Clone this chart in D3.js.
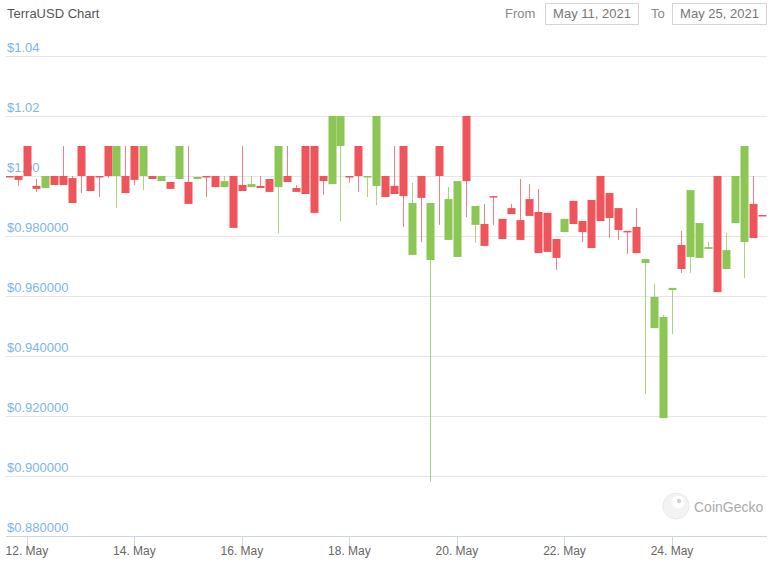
<!DOCTYPE html>
<html>
<head>
<meta charset="utf-8">
<script src="https://cdn.jsdelivr.net/npm/d3@7"></script>
<style>
  body { margin: 0; background: #fff; font-family: "Liberation Sans", Arial, sans-serif; }
  svg text { font-family: "Liberation Sans", Arial, sans-serif; }
</style>
</head>
<body>
<div id="chart"></div>
<script>
// 4-hour candles, first one at May 11 16:00 (UTC)
const firstCandle = Date.UTC(2021, 4, 11, 16);
const candleHours = 4;

const opens = [
  1.0000, 1.0000, 1.0100, 0.9967, 0.9960, 1.0000, 1.0000, 0.9993, 1.0100, 1.0000,
  1.0000, 1.0100, 1.0000, 1.0000, 1.0100, 1.0000, 1.0000, 0.9983, 0.9980, 0.9990,
  0.9980, 0.9990, 1.0000, 1.0000, 0.9963, 1.0000, 0.9970, 0.9963, 0.9967, 0.9990,
  0.9963, 1.0000, 0.9960, 1.0100, 1.0100, 1.0000, 0.9973, 1.0100, 1.0000, 1.0100,
  0.9997, 0.9967, 1.0000, 0.9967, 1.0100, 0.9737, 1.0000, 0.9720, 1.0100, 0.9787,
  0.9730, 1.0200, 0.9837, 0.9840, 0.9933, 0.9857, 0.9893, 0.9853, 0.9923, 0.9880,
  0.9877, 0.9790, 0.9813, 0.9917, 0.9850, 0.9920, 1.0000, 0.9943, 0.9893, 0.9817,
  0.9830, 0.9710, 0.9493, 0.9193, 0.9620, 0.9770, 0.9730, 0.9727, 0.9757, 1.0000,
  0.9690, 0.9843, 0.9780, 0.9907, 0.9870
];
const highs = [
  1.0000, 1.0000, 1.0100, 0.9990, 1.0000, 1.0000, 1.0100, 1.0000, 1.0100, 1.0000,
  1.0000, 1.0100, 1.0100, 1.0100, 1.0100, 1.0100, 1.0000, 1.0000, 0.9980, 1.0100,
  1.0100, 0.9997, 1.0000, 1.0000, 1.0000, 1.0000, 1.0100, 1.0000, 1.0000, 0.9990,
  1.0100, 1.0100, 0.9970, 1.0100, 1.0100, 1.0000, 1.0200, 1.0200, 1.0000, 1.0100,
  1.0000, 1.0200, 1.0000, 1.0100, 1.0100, 0.9977, 1.0000, 0.9910, 1.0100, 0.9963,
  0.9983, 1.0200, 0.9900, 0.9907, 0.9933, 0.9857, 0.9907, 0.9990, 0.9973, 0.9957,
  0.9877, 0.9790, 0.9857, 0.9917, 0.9850, 0.9920, 1.0000, 0.9943, 0.9893, 0.9817,
  0.9893, 0.9723, 0.9640, 0.9537, 0.9627, 0.9817, 0.9953, 0.9843, 0.9780, 1.0000,
  0.9810, 1.0000, 1.0100, 1.0000, 0.9870
];
const lows = [
  0.9997, 0.9967, 1.0000, 0.9947, 0.9960, 0.9970, 0.9970, 0.9910, 0.9943, 0.9950,
  0.9930, 0.9993, 0.9893, 0.9943, 0.9970, 0.9953, 0.9990, 0.9983, 0.9957, 0.9990,
  0.9907, 0.9990, 0.9930, 0.9963, 0.9963, 0.9827, 0.9950, 0.9963, 0.9960, 0.9947,
  0.9810, 0.9980, 0.9947, 0.9940, 0.9877, 0.9937, 0.9973, 0.9850, 0.9977, 0.9947,
  0.9930, 0.9903, 0.9930, 0.9940, 0.9830, 0.9737, 0.9780, 0.8980, 0.9837, 0.9787,
  0.9730, 0.9863, 0.9777, 0.9767, 0.9837, 0.9790, 0.9873, 0.9787, 0.9867, 0.9743,
  0.9747, 0.9687, 0.9813, 0.9840, 0.9780, 0.9760, 0.9850, 0.9793, 0.9787, 0.9740,
  0.9743, 0.9273, 0.9493, 0.9193, 0.9473, 0.9677, 0.9677, 0.9727, 0.9757, 0.9613,
  0.9690, 0.9843, 0.9660, 0.9793, 0.9867
];
const closes = [
  0.9997, 0.9987, 1.0000, 0.9957, 1.0000, 0.9970, 0.9970, 0.9910, 1.0000, 0.9950,
  0.9997, 1.0000, 1.0100, 0.9943, 0.9987, 1.0100, 0.9990, 1.0000, 0.9957, 1.0100,
  0.9907, 0.9997, 0.9997, 0.9963, 0.9983, 0.9827, 0.9950, 0.9973, 0.9960, 0.9947,
  1.0100, 0.9980, 0.9947, 0.9940, 0.9877, 0.9983, 1.0200, 1.0200, 0.9997, 1.0000,
  1.0000, 1.0200, 0.9930, 0.9940, 0.9933, 0.9910, 0.9927, 0.9910, 1.0000, 0.9923,
  0.9983, 0.9983, 0.9900, 0.9767, 0.9930, 0.9790, 0.9873, 0.9787, 0.9867, 0.9743,
  0.9747, 0.9727, 0.9857, 0.9840, 0.9813, 0.9760, 0.9850, 0.9860, 0.9820, 0.9813,
  0.9743, 0.9723, 0.9597, 0.9530, 0.9627, 0.9690, 0.9953, 0.9843, 0.9763, 0.9613,
  0.9753, 1.0000, 1.0100, 0.9793, 0.9867
];

const yTickValues = [0.88, 0.90, 0.92, 0.94, 0.96, 0.98, 1.00, 1.02, 1.04];
const yTickLabels = ["$0.880000", "$0.900000", "$0.920000", "$0.940000", "$0.960000",
  "$0.980000", "$1.00", "$1.02", "$1.04"];
const xTickDates = ["2021-05-12", "2021-05-14", "2021-05-16", "2021-05-18",
  "2021-05-20", "2021-05-22", "2021-05-24"];
const xTickLabels = ["12. May", "14. May", "16. May", "18. May", "20. May", "22. May", "24. May"];

const width = 784, height = 574;
const plotLeft = 6, plotRight = 767;

const upColor = '#8cc655';
const downColor = '#f0545b';

const candles = opens.map((o, i) => ({
  t: new Date(firstCandle + i * candleHours * 3600 * 1000),
  open: o, high: highs[i], low: lows[i], close: closes[i]
}));

const xScale = d3.scaleUtc()
  .domain([new Date(Date.UTC(2021, 4, 11, 12)), new Date(Date.UTC(2021, 4, 25, 18, 25))])
  .range([0, plotRight]);

const yScale = d3.scaleLinear()
  .domain([0.88, 1.04])
  .range([536, 56]);

const svg = d3.select('#chart').append('svg')
  .attr('width', width)
  .attr('height', height);

// header
svg.append('text')
  .attr('x', 7).attr('y', 18)
  .attr('font-size', 13).attr('fill', '#555')
  .text('TerraUSD Chart');

const header = [
  { label: 'From', lx: 505, bx: 545, bw: 93, value: 'May 11, 2021' },
  { label: 'To', lx: 651, bx: 672, bw: 94, value: 'May 25, 2021' }
];
header.forEach(h => {
  svg.append('text')
    .attr('x', h.lx).attr('y', 18)
    .attr('font-size', 13).attr('fill', '#888')
    .text(h.label);
  svg.append('rect')
    .attr('x', h.bx + 0.5).attr('y', 3.5)
    .attr('width', h.bw).attr('height', 21)
    .attr('fill', '#fff').attr('stroke', '#d4d4d4');
  svg.append('text')
    .attr('x', h.bx + h.bw / 2 + 0.5).attr('y', 18)
    .attr('text-anchor', 'middle')
    .attr('font-size', 13).attr('fill', '#777')
    .text(h.value);
});

// grid + y labels
const yAxisG = svg.append('g');
yAxisG.selectAll('line')
  .data(yTickValues.slice(1))
  .enter().append('line')
  .attr('x1', plotLeft).attr('x2', plotRight)
  .attr('y1', d => Math.round(yScale(d)) + 0.5)
  .attr('y2', d => Math.round(yScale(d)) + 0.5)
  .attr('stroke', '#e6e6e6');

yAxisG.selectAll('text')
  .data(yTickValues)
  .enter().append('text')
  .attr('x', 7)
  .attr('y', d => yScale(d) - 4)
  .attr('font-size', 13)
  .attr('fill', '#7cb5ec')
  .text((d, i) => yTickLabels[i]);

// x axis
const xAxisG = svg.append('g');
xAxisG.append('line')
  .attr('x1', plotLeft).attr('x2', plotRight)
  .attr('y1', 536.5).attr('y2', 536.5)
  .attr('stroke', '#ccd6eb');

const xTicks = xTickDates.map((d, i) => ({ t: new Date(d + 'T00:00:00Z'), label: xTickLabels[i] }));
xAxisG.selectAll('.tick')
  .data(xTicks)
  .enter().append('line')
  .attr('class', 'tick')
  .attr('x1', d => Math.round(xScale(d.t)) + 0.5)
  .attr('x2', d => Math.round(xScale(d.t)) + 0.5)
  .attr('y1', 537).attr('y2', 547)
  .attr('stroke', '#ccd6eb');
xAxisG.selectAll('.tlabel')
  .data(xTicks)
  .enter().append('text')
  .attr('class', 'tlabel')
  .attr('x', d => xScale(d.t))
  .attr('y', 555)
  .attr('text-anchor', 'middle')
  .attr('font-size', 12)
  .attr('fill', '#666')
  .text(d => d.label);

// watermark
const wm = svg.append('g').attr('opacity', 0.45);
wm.append('circle').attr('cx', 676).attr('cy', 506).attr('r', 13)
  .attr('fill', '#e6e6e6').attr('stroke', '#cfcfcf');
wm.append('circle').attr('cx', 678).attr('cy', 502).attr('r', 6.5).attr('fill', '#fff');
wm.append('circle').attr('cx', 679).attr('cy', 501).attr('r', 2.2).attr('fill', '#999');
svg.append('text')
  .attr('x', 694).attr('y', 512)
  .attr('font-size', 14).attr('fill', '#ababab')
  .text('CoinGecko');

// candles
svg.append('clipPath').attr('id', 'plot-clip')
  .append('rect')
  .attr('x', plotLeft).attr('y', 0)
  .attr('width', plotRight - plotLeft).attr('height', 540);

const candleW = 8;
const g = svg.append('g').attr('clip-path', 'url(#plot-clip)');

const candle = g.selectAll('g.candle')
  .data(candles)
  .enter().append('g')
  .attr('class', 'candle');

candle.append('line')
  .attr('x1', d => Math.round(xScale(d.t)) + 0.5)
  .attr('x2', d => Math.round(xScale(d.t)) + 0.5)
  .attr('y1', d => yScale(d.high))
  .attr('y2', d => yScale(d.low))
  .attr('stroke', d => d.close >= d.open ? upColor : downColor)
  .attr('stroke-opacity', 0.75)
  .attr('stroke-width', 1);

candle.append('rect')
  .attr('x', d => Math.round(xScale(d.t)) + 0.5 - candleW / 2)
  .attr('width', candleW)
  .attr('y', d => yScale(Math.max(d.open, d.close)))
  .attr('height', d => Math.max(1.5, Math.abs(yScale(d.open) - yScale(d.close))))
  .attr('fill', d => d.close >= d.open ? upColor : downColor);
</script>
</body>
</html>
